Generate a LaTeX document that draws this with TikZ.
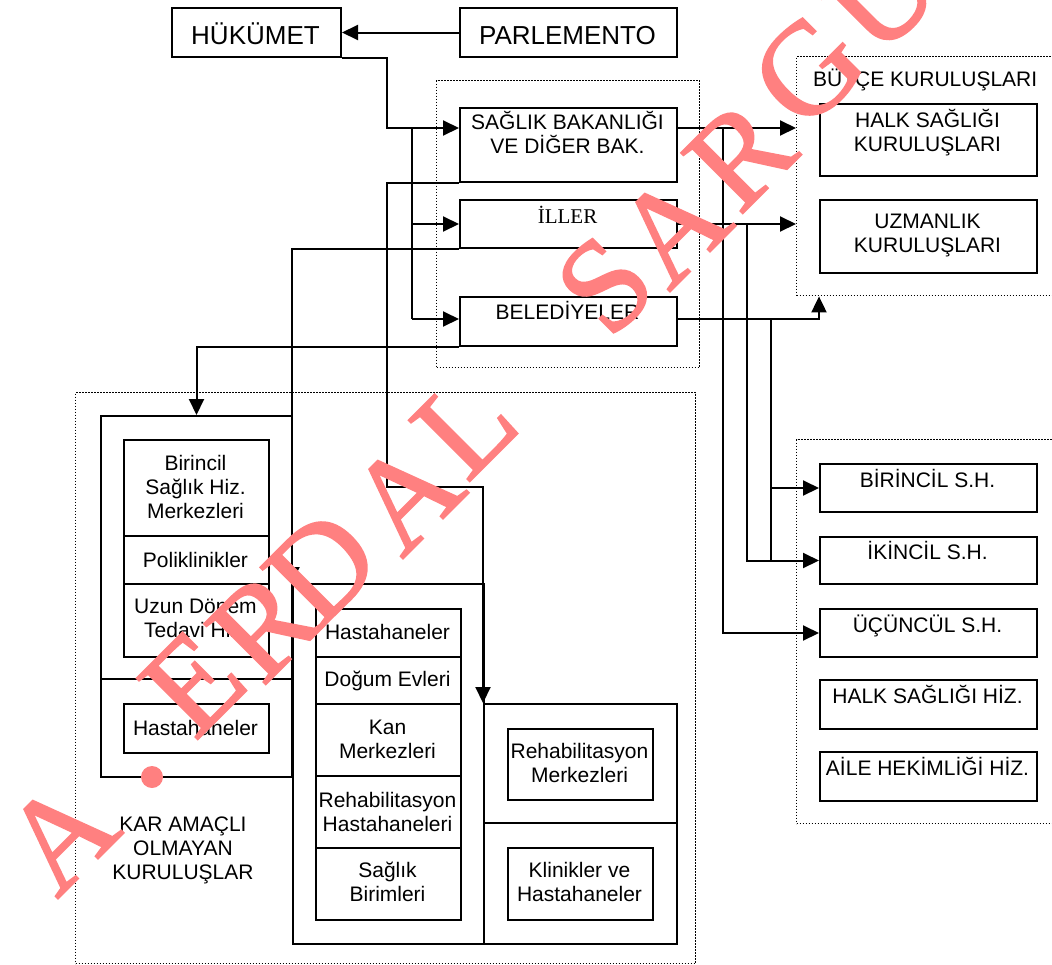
\documentclass[tikz,border=0pt]{standalone}
\usepackage{fontspec}
\setmainfont{Liberation Sans}
\newfontfamily\wmfont[FakeBold=1.3]{Liberation Serif}
\newfontfamily\serifB{Liberation Serif}
\usetikzlibrary{arrows.meta,calc}
\definecolor{wm}{RGB}{255,128,128}
\newcommand{\myfs}{\fontsize{21pt}{24.3pt}\selectfont}
\newcommand{\mybig}{\fontsize{26pt}{30pt}\selectfont}
\newcommand{\myfl}{\rule{0pt}{20pt}}
\begin{document}
\begin{tikzpicture}[x=1pt,y=-1pt,
  ln/.style={line width=2pt},
  arr/.style={ln,-{Triangle[length=16pt,width=15pt]}},
  bx/.style={draw,line width=2pt,inner sep=0pt,anchor=north west},
  dbx/.style={draw,line width=1.4pt,dash pattern=on 1.4pt off 1.6pt,inner sep=0pt,anchor=north west},
  tt/.style={font=\myfs,align=center,anchor=north,inner sep=0pt},
  tone/.style={font=\myfs,anchor=base,inner sep=0pt},
  wl/.style={font=\wmfont\fontsize{132pt}{132pt}\selectfont,text=wm,rotate=45,inner sep=0pt},
]
\useasboundingbox (0,0) rectangle (1052,964);
\fill[white] (0,0) rectangle (1052,964);

% dotted group frames
\node[dbx,minimum width=263pt,minimum height=287pt] (dA) at (436,80) {};
\node[dbx,minimum width=270pt,minimum height=239pt] (dB) at (796,56) {};
\node[dbx,minimum width=270pt,minimum height=384pt] (dC) at (796,439) {};
\node[dbx,minimum width=620pt,minimum height=571pt] (dD) at (75,392) {};

% top boxes
\node[bx,minimum width=169pt,minimum height=49pt] (huk) at (171,7) {};
\node[bx,minimum width=217pt,minimum height=49pt] (parl) at (459,7) {};
\node[font=\mybig,anchor=base,inner sep=0pt] (hukT) at (255.5,44) {HÜKÜMET};
\node[font=\mybig,anchor=base,inner sep=0pt] (parlT) at (567.5,44) {PARLEMENTO};

% middle column
\node[bx,minimum width=217pt,minimum height=74pt] (sag) at (459,107) {};
\node[bx,minimum width=217pt,minimum height=48pt] (iller) at (459,199) {};
\node[bx,minimum width=217pt,minimum height=49pt] (bel) at (459,296) {};
\node[tt] (sagT) at (567.5,109) {\myfl SAĞLIK BAKANLIĞI\\VE DİĞER BAK.};
\node[tone,font=\serifB\myfs] (illerT) at (567.5,223) {İLLER};
\node[tone] (belT) at (567.5,319) {BELEDİYELER};

% budget group
\node[tone,anchor=base west] (butT) at (813,86) {BÜTÇE KURULUŞLARI};
\node[bx,minimum width=217pt,minimum height=72pt] (halk) at (819,103) {};
\node[bx,minimum width=217pt,minimum height=73pt] (uzm) at (819,199) {};
\node[tt] (halkT) at (927.5,107) {\myfl HALK SAĞLIĞI\\KURULUŞLARI};
\node[tt] (uzmT) at (927.5,208) {\myfl UZMANLIK\\KURULUŞLARI};

% services group
\node[bx,minimum width=217pt,minimum height=48pt] (bir) at (819,463) {};
\node[bx,minimum width=217pt,minimum height=47pt] (iki) at (819,536) {};
\node[bx,minimum width=217pt,minimum height=48pt] (ucu) at (819,608) {};
\node[bx,minimum width=217pt,minimum height=49pt] (hhz) at (819,679) {};
\node[bx,minimum width=217pt,minimum height=49pt] (aile) at (819,751) {};
\node[tone] (birT) at (927.5,487) {BİRİNCİL S.H.};
\node[tone] (ikiT) at (927.5,559) {İKİNCİL S.H.};
\node[tone] (ucuT) at (927.5,632) {ÜÇÜNCÜL S.H.};
\node[tone] (hhzT) at (927.5,703) {HALK SAĞLIĞI HİZ.};
\node[tone] (aileT) at (927.5,775) {AİLE HEKİMLİĞİ HİZ.};

% left block
\node[bx,minimum width=191pt,minimum height=361pt] (lo) at (100,415) {};
\coordinate (sepL) at (0,679);
\draw[ln] (lo.west |- sepL) -- (lo.east |- sepL);
\node[bx,minimum width=145pt,minimum height=96pt] (l1) at (123,439) {};
\node[bx,minimum width=145pt,minimum height=48pt] (l2) at (123,535) {};
\node[bx,minimum width=145pt,minimum height=73pt] (l3) at (123,583) {};
\node[bx,minimum width=145pt,minimum height=49pt] (l4) at (123,703) {};
\node[tt] (l1T) at (195.5,450) {\myfl Birincil\\Sağlık Hiz.\\Merkezleri};
\node[tone] (l2T) at (195.5,567) {Poliklinikler};
\node[tt] (l3T) at (195.5,593) {\myfl Uzun Dönem\\Tedavi Hiz.};
\node[tone] (l4T) at (195.5,735) {Hastahaneler};
\node[tt] (karT) at (183,811) {\myfl KAR AMAÇLI\\OLMAYAN\\KURULUŞLAR};

% middle block
\node[bx,minimum width=191pt,minimum height=360pt] (mo) at (292,583) {};
\node[bx,minimum width=145pt,minimum height=48pt] (m1) at (315,608) {};
\node[bx,minimum width=145pt,minimum height=47pt] (m2) at (315,656) {};
\node[bx,minimum width=145pt,minimum height=72pt] (m3) at (315,703) {};
\node[bx,minimum width=145pt,minimum height=72pt] (m4) at (315,775) {};
\node[bx,minimum width=145pt,minimum height=72pt] (m5) at (315,847) {};
\node[tone] (m1T) at (387.5,639) {Hastahaneler};
\node[tone] (m2T) at (387.5,686) {Doğum Evleri};
\node[tt] (m3T) at (387.5,714) {\myfl Kan\\Merkezleri};
\node[tt] (m4T) at (387.5,787) {\myfl Rehabilitasyon\\Hastahaneleri};
\node[tt] (m5T) at (387.5,857) {\myfl Sağlık\\Birimleri};

% right block
\node[bx,minimum width=193pt,minimum height=240pt] (ro) at (483,703) {};
\coordinate (sepR) at (0,823);
\draw[ln] (ro.west |- sepR) -- (ro.east |- sepR);
\node[bx,minimum width=145pt,minimum height=71pt] (r1) at (507,728) {};
\node[bx,minimum width=145pt,minimum height=72pt] (r2) at (507,847) {};
\node[tt] (r1T) at (579.5,738) {\myfl Rehabilitasyon\\Merkezleri};
\node[tt] (r2T) at (579.5,857) {\myfl Klinikler ve\\Hastahaneler};

% connectors
\coordinate (yS) at (0,128);
\coordinate (yB) at (0,319);
\coordinate (j1) at (387,128);
\coordinate (v1) at (412,128);
\coordinate (k1) at (387,487);
\coordinate (x1) at (723,0);
\coordinate (x2) at (747,0);
\coordinate (x3) at (771,0);

\draw[arr] (parl.west) -- (huk.east);
\draw[arr] (huk.south east) -| (j1) -- (j1 -| sag.west);
\draw[ln] (v1) -- (v1 |- yB);
\draw[arr] (v1 |- iller.west) -- (iller.west);
\draw[arr] (v1 |- yB) -- (bel.west |- yB);
\draw[arr] (sag.south west) -| (k1) -| (ro.north west);
\draw[arr] (iller.south west) -| (mo.north west);
\draw[arr] (bel.south west) -| (lo.north);

\draw[arr] (sag.east |- yS) -- (dB.west |- yS);
\draw[arr] (iller.east) -- (dB.west |- iller.east);
\draw[arr] (bel.east |- yB) -| (halk.south west |- dB.south);
\draw[arr] (x1 |- yS) |- (ucu.west);
\draw[arr] (x2 |- iller.east) |- (iki.west);
\draw[arr] (x3 |- yB) |- (bir.west);
\draw[ln] (x3 |- bir.west) -- (x3 |- iki.west);

% watermark
\node[wl] (w1) at (60,835) {A};
\fill[wm] (152,777) circle (11pt);
\node[wl] (w2) at (193,683) {E};
\node[wl] (w3) at (263,626) {R};
\node[wl] (w4) at (322,567) {D};
\node[wl] (w5) at (405,495) {A};
\node[wl] (w6) at (465,425) {L};
\node[wl] (w7) at (605,285) {S};
\node[wl] (w8) at (672,228) {A};
\node[wl] (w9) at (740,155) {R};
\node[wl] (w10) at (808,70) {G};
\node[wl] (w11) at (882,-4) {U};
\end{tikzpicture}
\end{document}
